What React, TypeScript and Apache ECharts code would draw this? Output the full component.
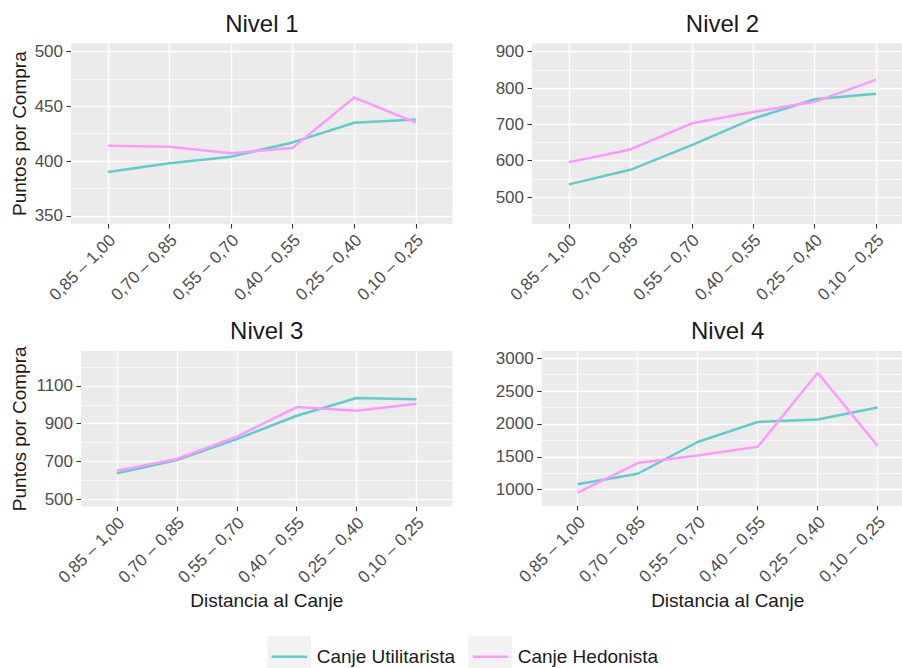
import React, { useEffect, useRef } from "react";
import * as echarts from "echarts";

// Distance-to-redemption bins (x axis)
const categories = [
  "0,85 – 1,00",
  "0,70 – 0,85",
  "0,55 – 0,70",
  "0,40 – 0,55",
  "0,25 – 0,40",
  "0,10 – 0,25",
];

const seriesNames = ["Canje Utilitarista", "Canje Hedonista"];
const seriesColors = ["#5FCDC9", "#FF99FF"];

const panelTitles = ["Nivel 1", "Nivel 2", "Nivel 3", "Nivel 4"];

// Points per purchase, by tier
const nivel1Util = [390, 398, 404, 417, 435, 438];
const nivel1Hed = [414, 413, 407, 412, 458, 435];
const nivel2Util = [535, 575, 643, 716, 769, 784];
const nivel2Hed = [596, 631, 703, 734, 762, 823];
const nivel3Util = [637, 707, 818, 942, 1036, 1030];
const nivel3Hed = [651, 713, 831, 988, 969, 1006];
const nivel4Util = [1082, 1243, 1726, 2030, 2067, 2250];
const nivel4Hed = [954, 1406, 1521, 1654, 2780, 1665];

// Y tick labels (major) and minor grid breaks per panel
const nivel1Ticks = [350, 400, 450, 500];
const nivel1Minor = [375, 425, 475];
const nivel2Ticks = [500, 600, 700, 800, 900];
const nivel2Minor = [450, 550, 650, 750, 850];
const nivel3Ticks = [500, 700, 900, 1100];
const nivel3Minor = [600, 800, 1000, 1200];
const nivel4Ticks = [1000, 1500, 2000, 2500, 3000];
const nivel4Minor = [1250, 1750, 2250, 2750];

const yTitle = "Puntos por Compra";
const xTitle = "Distancia al Canje";

const FONT = '"Liberation Sans", Arial, Helvetica, sans-serif';
const TEXT = "#1A1A1A";
const TICK_TEXT = "#4D4D4D";

export default function App() {
  const ref = useRef<HTMLDivElement>(null);

  useEffect(() => {
    if (!ref.current) return;
    const chart = echarts.init(ref.current, undefined, { renderer: "svg" });

    const panels = [
      { title: panelTitles[0], util: nivel1Util, hed: nivel1Hed, ticks: nivel1Ticks, minor: nivel1Minor, yMin: 342.5, yMax: 507.5, left: 71, top: 43.3, width: 381.7, height: 180.7, xMax: 5.6 },
      { title: panelTitles[1], util: nivel2Util, hed: nivel2Hed, ticks: nivel2Ticks, minor: nivel2Minor, yMin: 426, yMax: 923, left: 532, top: 43.3, width: 370, height: 180.7, xMax: 5.42 },
      { title: panelTitles[2], util: nivel3Util, hed: nivel3Hed, ticks: nivel3Ticks, minor: nivel3Minor, yMin: 461, yMax: 1285, left: 81, top: 351, width: 371.5, height: 155.6, xMax: 5.6 },
      { title: panelTitles[3], util: nivel4Util, hed: nivel4Hed, ticks: nivel4Ticks, minor: nivel4Minor, yMin: 752, yMax: 3111, left: 541.7, top: 351, width: 360.3, height: 155, xMax: 5.405 },
    ];

    const catIdx = categories.map((_, i) => i);
    const labelShift = 0.075;

    const grid: any[] = [];
    const xAxis: any[] = [];
    const yAxis: any[] = [];
    const series: any[] = [];
    const graphic: any[] = [];

    panels.forEach((p, k) => {
      grid.push({
        left: p.left,
        top: p.top,
        width: p.width,
        height: p.height,
        show: true,
        backgroundColor: "#EBEBEB",
        borderWidth: 0,
        borderColor: "transparent",
        containLabel: false,
        outerBoundsMode: "none",
      });

      const xIdx = xAxis.length;
      xAxis.push({
        type: "value",
        gridIndex: k,
        position: "bottom",
        min: -0.6,
        max: p.xMax,
        axisLine: { show: false, onZero: false },
        axisTick: { show: true, customValues: catIdx, length: 4.5, lineStyle: { color: "#333333", width: 1.1 } },
        axisLabel: { show: false },
        splitLine: { show: true, lineStyle: { color: "#FFFFFF", width: 1.4 } },
      });
      // label-only axis, nudged so the rotated labels end just right of each tick
      xAxis.push({
        type: "value",
        gridIndex: k,
        position: "bottom",
        min: -0.6 - labelShift,
        max: p.xMax - labelShift,
        axisLine: { show: false, onZero: false },
        axisTick: { show: false },
        splitLine: { show: false },
        axisLabel: {
          show: true,
          customValues: catIdx,
          rotate: 45,
          margin: 13.5,
          fontSize: 17,
          fontFamily: FONT,
          color: TICK_TEXT,
          formatter: (v: number) => categories[Math.round(v)] ?? "",
        },
      });

      const yIdx = yAxis.length;
      yAxis.push({
        type: "value",
        gridIndex: k,
        position: "left",
        min: p.yMin,
        max: p.yMax,
        axisLine: { show: false, onZero: false },
        axisTick: { show: true, customValues: p.ticks, length: 4.5, lineStyle: { color: "#333333", width: 1.1 } },
        axisLabel: {
          show: true,
          customValues: p.ticks,
          margin: 8,
          fontSize: 17,
          fontFamily: FONT,
          color: TICK_TEXT,
          formatter: (v: number) => String(v),
        },
        splitLine: { show: true, lineStyle: { color: "#FFFFFF", width: 1.4 } },
      });
      // minor grid lines
      yAxis.push({
        type: "value",
        gridIndex: k,
        position: "left",
        min: p.yMin,
        max: p.yMax,
        axisLine: { show: false, onZero: false },
        axisTick: { show: false, customValues: p.minor },
        axisLabel: { show: false },
        splitLine: { show: true, lineStyle: { color: "#FFFFFF", width: 0.7 } },
      });

      [p.util, p.hed].forEach((vals, s) => {
        series.push({
          type: "line",
          name: seriesNames[s],
          xAxisIndex: xIdx,
          yAxisIndex: yIdx,
          data: vals.map((v, i) => [i, v]),
          showSymbol: false,
          symbol: "none",
          lineStyle: { width: 2.5, color: seriesColors[s] },
          itemStyle: { color: seriesColors[s] },
          z: 3 + s,
        });
      });

      const fullWidth = (p.width / (p.xMax + 0.6)) * 6.2;
      graphic.push({
        type: "text",
        x: p.left + fullWidth / 2,
        y: k < 2 ? 23.7 : 330.8,
        style: {
          text: p.title,
          fontSize: 24,
          fontFamily: FONT,
          fill: TEXT,
          align: "center",
          verticalAlign: "middle",
          textAlign: "center",
          textVerticalAlign: "middle",
        },
      });

      if (k % 2 === 0) {
        graphic.push({
          type: "text",
          x: 19.5,
          y: p.top + p.height / 2,
          rotation: Math.PI / 2,
          style: {
            text: yTitle,
            fontSize: 19,
            fontFamily: FONT,
            fill: TEXT,
            align: "center",
            verticalAlign: "middle",
            textAlign: "center",
            textVerticalAlign: "middle",
          },
        });
      }
      if (k >= 2) {
        graphic.push({
          type: "text",
          x: p.left + fullWidth / 2,
          y: 600,
          style: {
            text: xTitle,
            fontSize: 19,
            fontFamily: FONT,
            fill: TEXT,
            align: "center",
            verticalAlign: "middle",
            textAlign: "center",
            textVerticalAlign: "middle",
          },
        });
      }
    });

    // legend: grey key boxes with a line sample, then the label
    const keyX = [267.3, 468.3];
    seriesNames.forEach((name, s) => {
      graphic.push({
        type: "rect",
        shape: { x: keyX[s], y: 636, width: 43.7, height: 44 },
        style: { fill: "#F2F2F2" },
      });
      graphic.push({
        type: "line",
        shape: { x1: keyX[s] + 4.4, y1: 656.7, x2: keyX[s] + 40, y2: 656.7 },
        style: { stroke: seriesColors[s], lineWidth: 2.5 },
      });
      graphic.push({
        type: "text",
        x: keyX[s] + 49.4,
        y: 656.8,
        style: {
          text: name,
          fontSize: 19,
          fontFamily: FONT,
          fill: TEXT,
          align: "left",
          verticalAlign: "middle",
          textAlign: "left",
          textVerticalAlign: "middle",
        },
      });
    });

    chart.setOption({
      animation: false,
      backgroundColor: "#FFFFFF",
      grid,
      xAxis,
      yAxis,
      series,
      graphic,
    });

    return () => chart.dispose();
  }, []);

  return (
    <div
      ref={ref}
      style={{ position: "absolute", left: 0, top: 0, width: 902, height: 668 }}
    />
  );
}
